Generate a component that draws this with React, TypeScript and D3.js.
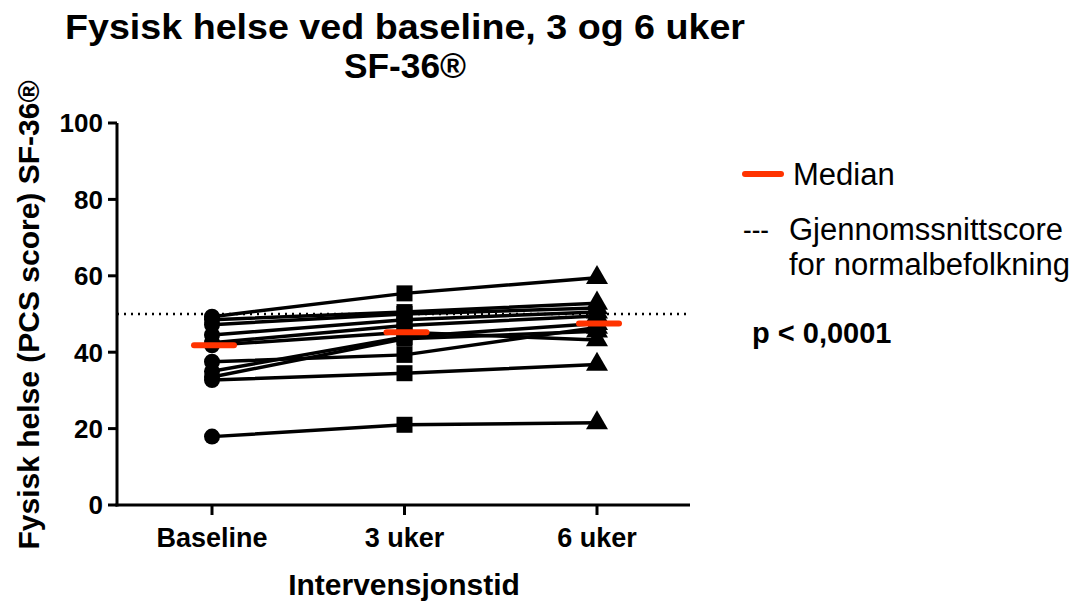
import React from "react";
import * as d3 from "d3";

const categories = ["Baseline", "3 uker", "6 uker"];
const baseline = [49.3, 48.5, 47.2, 44.5, 42.5, 41.8, 37.5, 35.0, 33.5, 32.7, 17.9];
const week3 = [55.4, 50.5, 50.0, 48.5, 47.0, 45.2, 39.3, 44.0, 43.5, 34.5, 21.0];
const week6 = [59.5, 52.8, 51.6, 50.5, 49.5, 43.2, 46.5, 47.5, 45.5, 36.8, 21.5];
const medians = [41.8, 45.2, 47.5];
const normLine = 50;
const yTicks = [0, 20, 40, 60, 80, 100];

const W = 1081, H = 602;
const left = 117, right = 690, top = 123, bottom = 505;

export default function App() {
  const x = d3.scalePoint<string>().domain(categories).range([212, 597]);
  const y = d3.scaleLinear().domain([0, 100]).range([bottom, top]);
  const series = [baseline, week3, week6];
  const subjects = baseline.map((_, i) => series.map((s, j) => [x(categories[j])!, y(s[i])] as [number, number]));
  const line = d3.line<[number, number]>();
  const tri = d3.symbol().type(d3.symbolTriangle).size(210)()!;
  const font = "Arial, 'Liberation Sans', sans-serif";
  return (
    <svg width={W} height={H} style={{ position: "absolute", left: 0, top: 0, background: "#fff" }} fontFamily={font}>
      <text x={405} y={39} textAnchor="middle" fontWeight="bold" fontSize={35} textLength={680} lengthAdjust="spacingAndGlyphs">Fysisk helse ved baseline, 3 og 6 uker</text>
      <text x={405} y={78} textAnchor="middle" fontWeight="bold" fontSize={35} textLength={122} lengthAdjust="spacingAndGlyphs">SF-36®</text>

      {/* dotted normal line */}
      <line x1={left} x2={right} y1={y(normLine)} y2={y(normLine)} stroke="#000" strokeWidth={2.5} strokeDasharray="2 5" />

      {/* axes */}
      <line x1={left} x2={left} y1={top} y2={bottom + 1.5} stroke="#000" strokeWidth={3} />
      <line x1={left - 1.5} x2={right} y1={bottom} y2={bottom} stroke="#000" strokeWidth={3} />
      {yTicks.map(t => (
        <g key={t}>
          <line x1={left - 9} x2={left} y1={y(t)} y2={y(t)} stroke="#000" strokeWidth={3} />
          <text x={left - 14} y={y(t)} dy="0.36em" textAnchor="end" fontWeight="bold" fontSize={26}>{t}</text>
        </g>
      ))}
      {categories.map(c => (
        <g key={c}>
          <line x1={x(c)} x2={x(c)} y1={bottom} y2={bottom + 10} stroke="#000" strokeWidth={3} />
          <text x={x(c)} y={547} textAnchor="middle" fontWeight="bold" fontSize={27}>{c}</text>
        </g>
      ))}
      <text x={404} y={595} textAnchor="middle" fontWeight="bold" fontSize={30}>Intervensjonstid</text>
      <text transform={`translate(39,${315}) rotate(-90)`} textAnchor="middle" fontWeight="bold" fontSize={30}>Fysisk helse (PCS score) SF-36®</text>

      {/* subject lines */}
      {subjects.map((pts, i) => (
        <path key={i} d={line(pts)!} fill="none" stroke="#000" strokeWidth={3.5} />
      ))}
      {baseline.map((v, i) => <circle key={"c" + i} cx={x(categories[0])} cy={y(v)} r={8} fill="#000" />)}
      {week3.map((v, i) => <rect key={"s" + i} x={x(categories[1])! - 8} y={y(v) - 8} width={16} height={16} fill="#000" />)}
      {week6.map((v, i) => <path key={"t" + i} d={tri} transform={`translate(${x(categories[2])},${y(v)})`} fill="#000" />)}

      {/* medians */}
      {medians.map((m, j) => (
        <line key={"m" + j} x1={x(categories[j])! - 18} x2={x(categories[j])! + 22} y1={y(m)} y2={y(m)} stroke="#ff3300" strokeWidth={6} strokeLinecap="round" />
      ))}

      {/* legend */}
      <line x1={745} x2={781} y1={174} y2={174} stroke="#ff3300" strokeWidth={6} strokeLinecap="round" />
      <text x={793} y={185} fontSize={31}>Median</text>
      <text x={743} y={240} fontSize={30} textLength={26} lengthAdjust="spacingAndGlyphs">---</text>
      <text x={789} y={240} fontSize={31}>Gjennomssnittscore</text>
      <text x={789} y={275} fontSize={31}>for normalbefolkning</text>
      <text x={752} y={343} fontSize={29} fontWeight="bold">p &lt; 0,0001</text>
    </svg>
  );
}
